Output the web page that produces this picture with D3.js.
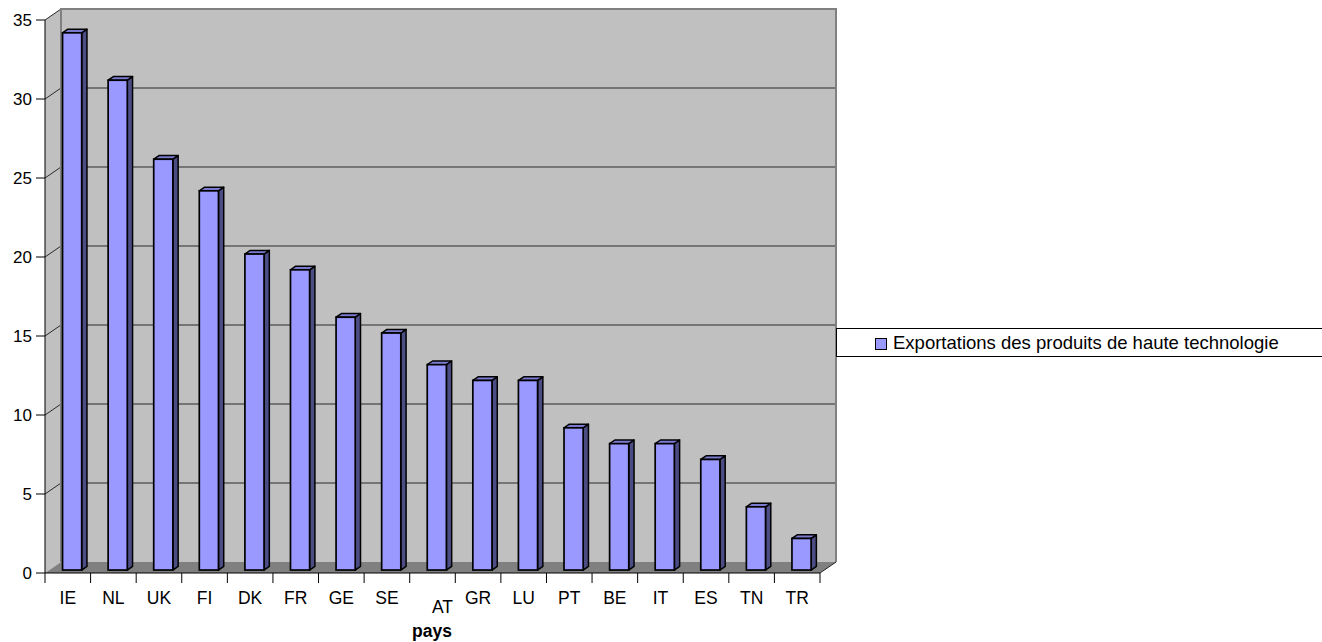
<!DOCTYPE html>
<html>
<head>
<meta charset="utf-8">
<script src="https://cdn.jsdelivr.net/npm/d3@7"></script>
<style>
  html, body { margin: 0; padding: 0; background: #fff; }
  svg { display: block; font-family: "Liberation Sans", Arial, sans-serif; }
</style>
</head>
<body>
<svg id="chart" width="1322" height="642"></svg>
<script>
// Country codes and share of high-tech exports
const countries = ["IE", "NL", "UK", "FI", "DK", "FR", "GE", "SE", "AT", "GR", "LU", "PT", "BE", "IT", "ES", "TN", "TR"];
const exportValues = [34, 31, 26, 24, 20, 19, 16, 15, 13, 12, 12, 9, 8, 8, 7, 4, 2];
const yTicks = [0, 5, 10, 15, 20, 25, 30, 35];
const seriesName = "Exportations des produits de haute technologie";
const axisTitle = "pays";

const svg = d3.select("#chart");

// Front plane geometry and 3D depth offset
const x0 = 45, x1 = 820, yBase = 573, yTop = 20;
const depthX = 16, depthY = -11;

const x = d3.scaleBand().domain(countries).range([x0, x1]).padding(0);
const y = d3.scaleLinear().domain([0, 35]).range([yBase, yTop]);

const pts = a => a.map(p => p.join(",")).join(" ");

// Left side wall
svg.append("polygon")
  .attr("points", pts([[x0, y(35)], [x0 + depthX, y(35) + depthY], [x0 + depthX, y(0) + depthY], [x0, y(0)]]))
  .attr("fill", "#c0c0c0");

// Back wall
svg.append("rect")
  .attr("x", x0 + depthX).attr("y", y(35) + depthY)
  .attr("width", x1 - x0).attr("height", y(0) - y(35))
  .attr("fill", "#c0c0c0");

// Floor
svg.append("polygon")
  .attr("points", pts([[x0, y(0)], [x0 + depthX, y(0) + depthY], [x1 + depthX, y(0) + depthY], [x1, y(0)]]))
  .attr("fill", "#808080");

// Gridlines on the back wall and side wall
const grid = yTicks.filter(v => v > 0 && v < 35);
svg.append("g").selectAll("line.back").data(grid).join("line")
  .attr("x1", x0 + depthX).attr("x2", x1 + depthX)
  .attr("y1", d => y(d) + depthY).attr("y2", d => y(d) + depthY)
  .attr("stroke", "#2a2a2a").attr("stroke-width", 1);
svg.append("g").selectAll("line.side").data(yTicks.filter(v => v > 0)).join("line")
  .attr("x1", x0).attr("x2", x0 + depthX)
  .attr("y1", d => y(d)).attr("y2", d => y(d) + depthY)
  .attr("stroke", "#2a2a2a").attr("stroke-width", 1);

// Wall borders
svg.append("path")
  .attr("d", `M${x0 + depthX},${y(0) + depthY}V${y(35) + depthY}H${x1 + depthX}V${y(0) + depthY}`)
  .attr("fill", "none").attr("stroke", "#808080").attr("stroke-width", 2);
svg.append("line")
  .attr("x1", x1).attr("y1", y(0)).attr("x2", x1 + depthX).attr("y2", y(0) + depthY)
  .attr("stroke", "#222").attr("stroke-width", 1);

// 3D columns
const f1 = 0.27, f2 = 0.6;
const barW = x.bandwidth() * 0.42;
const bars = svg.append("g").selectAll("g").data(countries.map((c, i) => ({ c, v: exportValues[i] }))).join("g");
bars.each(function (d) {
  const g = d3.select(this);
  const fx = x(d.c) + (x.bandwidth() - barW) / 2 + depthX * f1;
  const fyB = y(0) + depthY * f1;
  const fyT = y(d.v) + depthY * f1;
  const ox = depthX * (f2 - f1), oy = depthY * (f2 - f1);
  // side face
  g.append("polygon")
    .attr("points", pts([[fx + barW, fyT], [fx + barW + ox, fyT + oy], [fx + barW + ox, fyB + oy], [fx + barW, fyB]]))
    .attr("fill", "#4d4d85").attr("stroke", "#000").attr("stroke-width", 1.5).attr("stroke-linejoin", "round");
  // top face
  g.append("polygon")
    .attr("points", pts([[fx, fyT], [fx + ox, fyT + oy], [fx + barW + ox, fyT + oy], [fx + barW, fyT]]))
    .attr("fill", "#7b7bd0").attr("stroke", "#000").attr("stroke-width", 1.5).attr("stroke-linejoin", "round");
  // front face
  g.append("rect")
    .attr("x", fx).attr("y", fyT).attr("width", barW).attr("height", fyB - fyT)
    .attr("fill", "#9999ff").attr("stroke", "#000").attr("stroke-width", 1.7);
});

// Value axis
const yAxis = svg.append("g");
yAxis.append("line").attr("x1", x0).attr("x2", x0).attr("y1", y(0)).attr("y2", y(35)).attr("stroke", "#000");
yAxis.selectAll("line.t").data(yTicks).join("line")
  .attr("x1", x0 - 9).attr("x2", x0).attr("y1", d => y(d)).attr("y2", d => y(d)).attr("stroke", "#000");
yAxis.selectAll("text").data(yTicks).join("text")
  .attr("x", x0 - 13).attr("y", d => y(d)).attr("dy", "0.36em")
  .attr("text-anchor", "end").attr("font-size", 17).attr("fill", "#000")
  .text(d => d);

// Category axis
const xAxis = svg.append("g");
xAxis.append("line").attr("x1", x0).attr("x2", x1).attr("y1", y(0)).attr("y2", y(0)).attr("stroke", "#000");
const tickPos = countries.map(c => x(c)).concat([x1]);
xAxis.selectAll("line.t").data(tickPos).join("line")
  .attr("x1", d => d).attr("x2", d => d).attr("y1", y(0)).attr("y2", y(0) + 10).attr("stroke", "#000");
xAxis.selectAll("text").data(countries).join("text")
  .attr("x", d => x(d) + x.bandwidth() / 2 + (d === "AT" ? 10 : 0))
  .attr("y", d => d === "AT" ? 613 : 604)
  .attr("text-anchor", "middle").attr("font-size", 17.5).attr("fill", "#000")
  .text(d => d);

svg.append("text")
  .attr("x", 432).attr("y", 637)
  .attr("text-anchor", "middle").attr("font-size", 17.5).attr("font-weight", "bold")
  .text(axisTitle);

// Legend
const legend = svg.append("g");
legend.append("rect")
  .attr("x", 836.5).attr("y", 328.5).attr("width", 500).attr("height", 28)
  .attr("fill", "#fff").attr("stroke", "#000");
legend.append("rect")
  .attr("x", 875.5).attr("y", 338.5).attr("width", 11).attr("height", 11)
  .attr("fill", "#9999ff").attr("stroke", "#000");
legend.append("text")
  .attr("x", 893).attr("y", 349).attr("font-size", 18.5).attr("fill", "#000")
  .text(seriesName);
</script>
</body>
</html>
